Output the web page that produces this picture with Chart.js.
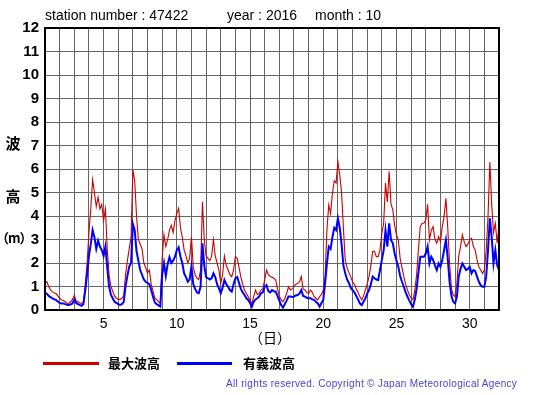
<!DOCTYPE html>
<html>
<head>
<meta charset="utf-8">
<script src="https://cdn.jsdelivr.net/npm/chart.js@4"></script>
<style>
  body { margin: 0; background: #fff; }
  #wrap { position: relative; width: 555px; height: 395px; overflow: hidden; font-family: "Liberation Sans", Arial, sans-serif; }
  #chart { position: absolute; left: 0; top: 0; }
  .txt { position: absolute; white-space: pre; color: #000; }
  .jp { font-family: "Noto Sans CJK JP", sans-serif; font-weight: bold; }
  .key { position: absolute; height: 3px; }
</style>
</head>
<body>
<div id="wrap">
  <canvas id="chart" width="555" height="395"></canvas>
  <div class="txt" style="left:45px; top:7px; font-size:14px; line-height:16px;">station number : 47422</div>
  <div class="txt" style="left:227px; top:7px; font-size:14px; line-height:16px;">year : 2016</div>
  <div class="txt" style="left:315px; top:7px; font-size:14px; line-height:16px;">month : 10</div>

  <div class="txt jp" style="left:0; width:26px; text-align:center; top:133px; font-size:15px; line-height:20px;">波</div>
  <div class="txt jp" style="left:0; width:26px; text-align:center; top:186px; font-size:15px; line-height:20px;">高</div>
  <div class="txt jp" style="left:-4px; width:30px; text-align:center; top:228px; font-size:13px; line-height:20px; letter-spacing:-1px;">（m）</div>

  <div class="txt jp" style="left:240px; width:60px; text-align:center; top:327px; font-size:14px; line-height:20px; font-weight:normal;">（日）</div>

  <div class="key" style="left:43px; top:362px; width:56px; background:#cc0000;"></div>
  <div class="txt jp" style="left:108px; top:354px; font-size:13px; line-height:18px;">最大波高</div>
  <div class="key" style="left:177px; top:362px; width:55px; background:#0000ff;"></div>
  <div class="txt jp" style="left:243px; top:354px; font-size:13px; line-height:18px;">有義波高</div>

  <div class="txt" style="left:226px; top:377px; font-size:10px; line-height:14px; letter-spacing:0.32px; color:#4444dd;">All rights reserved. Copyright © Japan Meteorological Agency</div>
</div>
<script>
// 3-hourly values, Oct 1 00h .. Nov 1 00h (one row per day)
const hoursPerPoint = 3;
const startDay = 1;

const maxWave = [
  1.13, 1.2, 1.0, 0.85, 0.78, 0.72, 0.7, 0.6,
  0.5, 0.43, 0.4, 0.35, 0.3, 0.28, 0.35, 0.45,
  0.62, 0.4, 0.35, 0.3, 0.28, 0.35, 1.1, 2.0,
  3.3, 4.3, 5.55, 5.0, 4.4, 4.8, 4.3, 4.5,
  3.8, 4.3, 2.6, 1.5, 1.0, 0.8, 0.6, 0.5,
  0.45, 0.45, 0.5, 0.6, 1.5, 2.1, 2.6, 3.1,
  5.96, 5.5, 4.0, 3.0, 2.8, 2.6, 2.0, 1.8,
  1.57, 1.7, 1.1, 0.8, 0.5, 0.45, 0.35, 0.3,
  2.2, 3.2, 2.7, 3.0, 3.4, 3.6, 3.3, 3.8,
  4.1, 4.33, 3.5, 3.1, 2.55, 2.3, 2.0, 2.2,
  3.1, 1.8, 1.5, 1.35, 1.3, 1.7, 4.6, 3.0,
  2.3, 2.2, 2.1, 2.27, 3.0, 2.3, 2.0, 1.7,
  1.13, 1.5, 2.3, 1.9, 1.7, 1.5, 1.42, 1.7,
  2.27, 2.2, 1.8, 1.4, 1.1, 0.85, 0.7, 0.57,
  0.4, 0.28, 0.57, 0.85, 0.65, 0.71, 0.85, 0.9,
  1.28, 1.7, 1.5, 1.42, 1.4, 1.35, 1.28, 0.9,
  0.6, 0.43, 0.35, 0.5, 0.7, 0.99, 0.85, 0.9,
  0.99, 1.1, 1.13, 1.2, 1.42, 0.9, 0.85, 0.75,
  0.7, 0.85, 0.75, 0.57, 0.5, 0.43, 0.57, 0.65,
  0.85, 1.4, 3.4, 4.47, 4.1, 4.96, 5.5, 5.4,
  6.3, 5.75, 5.0, 3.5, 2.13, 1.8, 1.6, 1.42,
  1.2, 1.1, 0.9, 0.75, 0.57, 0.43, 0.6, 0.85,
  1.1, 1.42, 1.9, 2.5, 2.5, 2.27, 2.27, 2.55,
  3.26, 3.69, 5.4, 4.6, 5.9, 4.5, 4.26, 3.6,
  3.2, 2.98, 2.2, 1.8, 1.42, 1.1, 0.85, 0.65,
  0.5, 0.43, 0.85, 1.5, 2.6, 3.55, 3.69, 3.69,
  3.83, 4.5, 2.98, 3.4, 3.55, 3.0, 2.84, 3.12,
  2.9, 3.55, 3.97, 4.75, 3.5, 2.0, 0.9, 0.64,
  0.57, 1.13, 2.3, 2.7, 3.2, 2.9, 2.7, 2.8,
  2.98, 3.05, 2.7, 2.55, 2.13, 1.84, 1.7, 1.56,
  1.7, 2.55, 3.97, 6.3, 4.5, 3.3, 3.69, 2.84,
  3.6
];

const sigWave = [
  0.68, 0.7, 0.6, 0.55, 0.5, 0.45, 0.43, 0.36,
  0.3, 0.28, 0.28, 0.25, 0.22, 0.21, 0.24, 0.28,
  0.45, 0.3, 0.25, 0.22, 0.18, 0.25, 0.85, 1.5,
  2.3, 2.8, 3.4, 3.1, 2.6, 2.95, 2.7, 2.55,
  2.3, 2.7, 1.8, 1.0, 0.65, 0.5, 0.35, 0.3,
  0.25, 0.22, 0.25, 0.35, 1.0, 1.45, 1.85, 2.0,
  3.66, 3.4, 2.5, 2.1, 1.7, 1.5, 1.3, 1.2,
  1.15, 1.1, 0.85, 0.57, 0.32, 0.25, 0.2, 0.15,
  1.5, 2.0, 1.45, 1.95, 2.25, 2.0, 2.1, 2.27,
  2.55, 2.67, 2.27, 2.0, 1.56, 1.4, 1.2, 1.3,
  1.85, 1.1, 0.9, 0.75, 0.72, 1.0, 2.84, 1.9,
  1.4, 1.35, 1.3, 1.35, 1.56, 1.4, 1.1, 0.92,
  0.71, 0.95, 1.28, 1.1, 0.99, 0.85, 0.78, 1.1,
  1.35, 1.4, 1.15, 0.9, 0.75, 0.64, 0.5, 0.43,
  0.3, 0.14, 0.35, 0.45, 0.5, 0.57, 0.71, 0.75,
  0.99, 1.06, 0.8, 0.75, 0.85, 0.8, 0.78, 0.6,
  0.4, 0.21, 0.1, 0.25, 0.4, 0.57, 0.57, 0.55,
  0.57, 0.62, 0.64, 0.7, 0.85, 0.6, 0.57, 0.52,
  0.5, 0.5, 0.45, 0.43, 0.35, 0.28, 0.14, 0.3,
  0.43, 1.13, 1.98, 2.7, 2.6, 3.1, 3.5, 3.4,
  3.9, 3.5, 2.8, 1.9, 1.56, 1.3, 1.15, 0.95,
  0.85, 0.75, 0.6, 0.45, 0.28, 0.21, 0.35, 0.5,
  0.7, 0.85, 1.1, 1.42, 1.35, 1.3, 1.28, 1.7,
  2.13, 2.55, 3.4, 2.7, 3.69, 2.98, 2.84, 2.4,
  2.1, 1.84, 1.45, 1.2, 0.99, 0.75, 0.57, 0.4,
  0.25, 0.14, 0.43, 0.9, 1.6, 2.27, 2.27, 2.27,
  2.4, 2.7, 1.98, 2.27, 2.13, 1.9, 1.7, 1.98,
  1.84, 2.13, 2.55, 2.98, 2.2, 1.2, 0.6, 0.35,
  0.28, 0.57, 1.42, 1.75, 1.98, 1.84, 1.7, 1.75,
  1.84, 1.56, 1.7, 1.65, 1.42, 1.2, 1.05, 0.99,
  0.99, 1.42, 2.55, 3.9, 3.12, 1.98, 2.55, 1.9,
  1.7
];

const xTickLabels = [5, 10, 15, 20, 25, 30];
const xMin = 1, xMax = 32;
const yMin = 0, yMax = 12;

function toPoints(arr) {
  return arr.map((v, i) => ({ x: startDay + i * hoursPerPoint / 24, y: v }));
}

// black frame round the plot area
const frame = {
  id: 'frame',
  afterDatasetsDraw(chart) {
    const a = chart.chartArea;
    const c = chart.ctx;
    c.save();
    c.strokeStyle = '#000';
    c.lineWidth = 2;
    c.strokeRect(a.left, a.top, a.right - a.left, a.bottom - a.top);
    c.restore();
  }
};

new Chart(document.getElementById('chart'), {
  type: 'line',
  data: {
    datasets: [
      { label: '最大波高', data: toPoints(maxWave), borderColor: '#cc0000', borderWidth: 1.1, pointRadius: 0, tension: 0, order: 1 },
      { label: '有義波高', data: toPoints(sigWave), borderColor: '#0000ff', borderWidth: 2, pointRadius: 0, tension: 0, order: 0 }
    ]
  },
  options: {
    responsive: false,
    animation: false,
    layout: { padding: { left: 0, top: 28, right: 56, bottom: 0 } },
    plugins: { legend: { display: false }, tooltip: { enabled: false } },
    scales: {
      x: {
        type: 'linear', min: xMin, max: xMax,
        afterFit(s) { s.height = 85; },
        grid: { color: '#666', lineWidth: 1, drawTicks: false },
        border: { display: false },
        ticks: {
          stepSize: 1, autoSkip: false, maxRotation: 0, padding: 6,
          color: '#000', font: { family: 'Liberation Sans', size: 14 },
          callback: v => xTickLabels.includes(v) ? String(v) : ''
        }
      },
      y: {
        min: yMin, max: yMax,
        afterFit(s) { s.width = 45; },
        grid: { color: '#666', lineWidth: 1, drawTicks: false },
        border: { display: false },
        ticks: {
          stepSize: 1, padding: 6, color: '#000',
          font: { family: 'Liberation Sans', size: 15, weight: 'bold' }
        }
      }
    }
  },
  plugins: [frame]
});
</script>
</body>
</html>
